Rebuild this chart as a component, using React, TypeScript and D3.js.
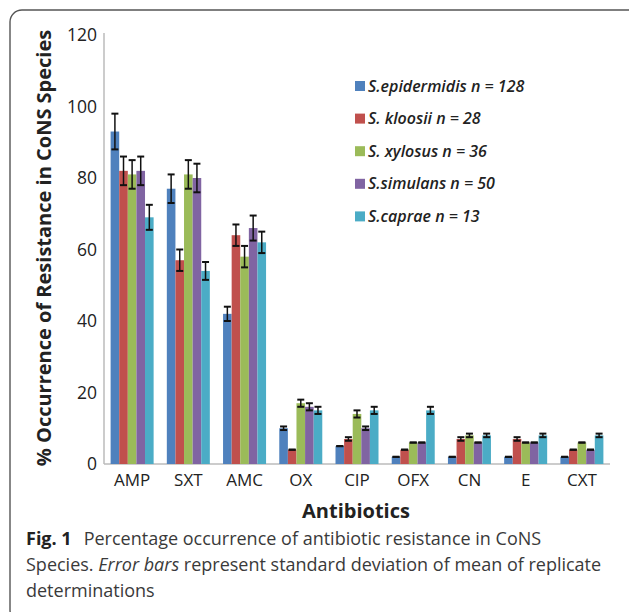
import React from 'react';
import * as d3 from 'd3';

const antibiotics = ['AMP', 'SXT', 'AMC', 'OX', 'CIP', 'OFX', 'CN', 'E', 'CXT'];
const speciesNames = [
  'S.epidermidis n = 128',
  'S. kloosii n = 28',
  'S. xylosus n = 36',
  'S.simulans n = 50',
  'S.caprae n = 13',
];
const colors = ['#4F81BD', '#C0504D', '#9BBB59', '#8064A2', '#4BACC6'];

// % occurrence per species, in antibiotic order
const epidermidis = [93, 77, 42, 10, 5, 2, 2, 2, 2];
const kloosii = [82, 57, 64, 4, 7, 4, 7, 7, 4];
const xylosus = [81, 81, 58, 17, 14, 6, 8, 6, 6];
const simulans = [82, 80, 66, 16, 10, 6, 6, 6, 4];
const caprae = [69, 54, 62, 15, 15, 15, 8, 8, 8];

// standard deviations
const epidermidisErr = [5, 4, 2, 0.5, 0, 0, 0, 0, 0];
const kloosiiErr = [4, 3, 3, 0, 0.5, 0, 0.5, 0.5, 0];
const xylosusErr = [4, 4, 3, 1, 1, 0, 0.5, 0, 0];
const simulansErr = [4, 4, 3.5, 1, 0.5, 0, 0, 0, 0];
const capraeErr = [3.5, 2.5, 3, 1, 1, 1, 0.5, 0.5, 0.5];

const yTicks = [0, 20, 40, 60, 80, 100, 120];

const series = [epidermidis, kloosii, xylosus, simulans, caprae];
const errors = [epidermidisErr, kloosiiErr, xylosusErr, simulansErr, capraeErr];

export default function App() {
  const width = 629;
  const height = 612;
  const left = 104;
  const right = 610;
  const bottom = 464;
  const top = 35;

  const x = d3.scaleBand().domain(antibiotics).range([left, right])
    .paddingInner(0.235).paddingOuter(0.1175);
  const xs = d3.scaleBand().domain(speciesNames).range([0, x.bandwidth()]);
  const y = d3.scaleLinear().domain([0, 120]).range([bottom, top]);

  const font = "'Open Sans', sans-serif";

  return (
    <svg width={width} height={height}
      style={{ position: 'absolute', left: 0, top: 0, background: '#fff' }}>
      <rect x={10} y={10} width={632} height={612} rx={12}
        fill="none" stroke="#555" strokeWidth={1.4} />

      {/* axes */}
      <line x1={left} x2={left} y1={top - 2} y2={bottom} stroke="#bbb" strokeWidth={1.5} />
      <line x1={left} x2={right} y1={bottom} y2={bottom} stroke="#bbb" strokeWidth={1.5} />

      {yTicks.map(t => (
        <text key={t} x={97} y={y(t)} dy="0.35em" textAnchor="end"
          fontFamily={font} fontSize={17.5} fill="#222">{t}</text>
      ))}

      {antibiotics.map(a => (
        <text key={a} x={x(a)! + x.bandwidth() / 2} y={486} textAnchor="middle"
          fontFamily={font} fontSize={17} fill="#222">{a}</text>
      ))}

      {/* bars */}
      {series.map((vals, si) => (
        <g key={si}>
          {vals.map((v, i) => {
            const bx = x(antibiotics[i])! + xs(speciesNames[si])!;
            return (
              <rect key={i} x={bx} y={y(v)} width={xs.bandwidth()}
                height={bottom - y(v)} fill={colors[si]} />
            );
          })}
        </g>
      ))}

      {/* error bars */}
      {series.map((vals, si) => (
        <g key={'e' + si} stroke="#111">
          {vals.map((v, i) => {
            const cx = x(antibiotics[i])! + xs(speciesNames[si])! + xs.bandwidth() / 2;
            const e = errors[si][i];
            const hw = 3.5;
            return (
              <g key={i}>
                <line x1={cx} x2={cx} y1={y(v + e)} y2={y(v - e)} strokeWidth={1.5} />
                <line x1={cx - hw} x2={cx + hw} y1={y(v + e)} y2={y(v + e)} strokeWidth={2} />
                <line x1={cx - hw} x2={cx + hw} y1={y(v - e)} y2={y(v - e)} strokeWidth={2} />
              </g>
            );
          })}
        </g>
      ))}

      {/* legend */}
      {speciesNames.map((s, i) => (
        <g key={s} transform={`translate(355, ${86 + i * 32.6})`}>
          <rect x={0} y={-5} width={10} height={10} fill={colors[i]} />
          <text x={13} y={0} dy="0.35em" fontFamily={font} fontStyle="italic"
            fontWeight={600} fontSize={16} fill="#222">{s}</text>
        </g>
      ))}

      {/* axis titles */}
      <text transform="translate(51, 248) rotate(-90)" textAnchor="middle"
        fontFamily={font} fontWeight={700} fontSize={20} fill="#222">
        % Occurrence of Resistance in CoNS Species
      </text>
      <text x={356} y={518} textAnchor="middle" fontFamily={font}
        fontWeight={700} fontSize={20} fill="#222">Antibiotics</text>

      {/* caption */}
      <text x={26} y={545} fontFamily={font} fontSize={18} fill="#3a3a3a">
        <tspan fontWeight={700} fill="#222">Fig. 1</tspan>
        <tspan dx={12}>Percentage occurrence of antibiotic resistance in CoNS</tspan>
      </text>
      <text x={26} y={571} fontFamily={font} fontSize={18} fill="#3a3a3a">
        Species. <tspan fontStyle="italic">Error bars</tspan> represent standard deviation of mean of replicate
      </text>
      <text x={26} y={597} fontFamily={font} fontSize={18} fill="#3a3a3a">determinations</text>
    </svg>
  );
}
